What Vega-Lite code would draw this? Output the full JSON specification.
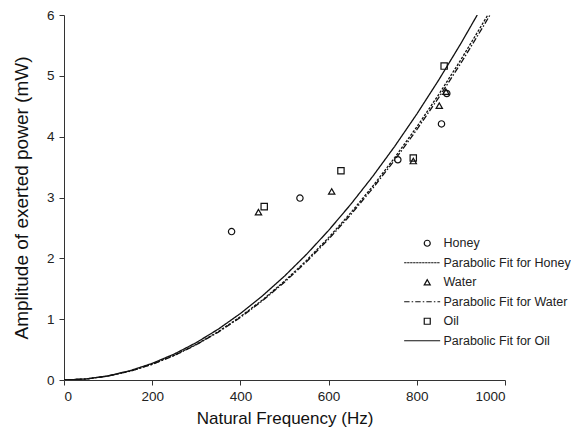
{
  "$schema": "https://vega.github.io/schema/vega-lite/v6.json",
  "width": 441,
  "height": 365,
  "autosize": {"type": "none"},
  "padding": {"left": 64, "top": 15, "right": 66, "bottom": 58},
  "background": "white",
  "config": {
    "view": {"stroke": null},
    "font": "Liberation Sans",
    "axis": {
      "grid": false,
      "domainColor": "#333",
      "tickColor": "#333",
      "tickSize": 5,
      "labelFont": "Liberation Sans",
      "labelFontSize": 13.5,
      "labelColor": "#222",
      "titleFont": "Liberation Sans",
      "titleFontSize": 17,
      "titleFontWeight": "normal",
      "titleColor": "#111"
    }
  },
  "datasets": {
    "points": [
      {"series": "Honey", "freq": 380, "power": 2.44},
      {"series": "Honey", "freq": 535, "power": 2.99},
      {"series": "Honey", "freq": 757, "power": 3.62},
      {"series": "Honey", "freq": 856, "power": 4.21},
      {"series": "Honey", "freq": 868, "power": 4.71},
      {"series": "Water", "freq": 441, "power": 2.76},
      {"series": "Water", "freq": 607, "power": 3.10},
      {"series": "Water", "freq": 792, "power": 3.60},
      {"series": "Water", "freq": 851, "power": 4.51},
      {"series": "Water", "freq": 866, "power": 4.74},
      {"series": "Oil", "freq": 454, "power": 2.85},
      {"series": "Oil", "freq": 628, "power": 3.44},
      {"series": "Oil", "freq": 792, "power": 3.65},
      {"series": "Oil", "freq": 862, "power": 5.16}
    ],
    "fits": [
      {"fluid": "Honey", "freq": 0, "power": 0},
      {"fluid": "Honey", "freq": 50, "power": 0.0163},
      {"fluid": "Honey", "freq": 100, "power": 0.065},
      {"fluid": "Honey", "freq": 150, "power": 0.1463},
      {"fluid": "Honey", "freq": 200, "power": 0.26},
      {"fluid": "Honey", "freq": 250, "power": 0.4063},
      {"fluid": "Honey", "freq": 300, "power": 0.585},
      {"fluid": "Honey", "freq": 350, "power": 0.7963},
      {"fluid": "Honey", "freq": 400, "power": 1.04},
      {"fluid": "Honey", "freq": 450, "power": 1.3163},
      {"fluid": "Honey", "freq": 500, "power": 1.625},
      {"fluid": "Honey", "freq": 550, "power": 1.9663},
      {"fluid": "Honey", "freq": 600, "power": 2.34},
      {"fluid": "Honey", "freq": 650, "power": 2.7463},
      {"fluid": "Honey", "freq": 700, "power": 3.185},
      {"fluid": "Honey", "freq": 750, "power": 3.6563},
      {"fluid": "Honey", "freq": 800, "power": 4.16},
      {"fluid": "Honey", "freq": 850, "power": 4.6963},
      {"fluid": "Honey", "freq": 900, "power": 5.265},
      {"fluid": "Honey", "freq": 950, "power": 5.8663},
      {"fluid": "Honey", "freq": 961, "power": 6.0},
      {"fluid": "Water", "freq": 0, "power": 0},
      {"fluid": "Water", "freq": 50, "power": 0.0161},
      {"fluid": "Water", "freq": 100, "power": 0.0643},
      {"fluid": "Water", "freq": 150, "power": 0.1447},
      {"fluid": "Water", "freq": 200, "power": 0.2572},
      {"fluid": "Water", "freq": 250, "power": 0.4019},
      {"fluid": "Water", "freq": 300, "power": 0.5787},
      {"fluid": "Water", "freq": 350, "power": 0.7877},
      {"fluid": "Water", "freq": 400, "power": 1.0288},
      {"fluid": "Water", "freq": 450, "power": 1.3021},
      {"fluid": "Water", "freq": 500, "power": 1.6075},
      {"fluid": "Water", "freq": 550, "power": 1.9451},
      {"fluid": "Water", "freq": 600, "power": 2.3148},
      {"fluid": "Water", "freq": 650, "power": 2.7167},
      {"fluid": "Water", "freq": 700, "power": 3.1507},
      {"fluid": "Water", "freq": 750, "power": 3.6169},
      {"fluid": "Water", "freq": 800, "power": 4.1152},
      {"fluid": "Water", "freq": 850, "power": 4.6457},
      {"fluid": "Water", "freq": 900, "power": 5.2083},
      {"fluid": "Water", "freq": 950, "power": 5.8031},
      {"fluid": "Water", "freq": 966, "power": 6.0},
      {"fluid": "Oil", "freq": 0, "power": 0},
      {"fluid": "Oil", "freq": 50, "power": 0.0171},
      {"fluid": "Oil", "freq": 100, "power": 0.0683},
      {"fluid": "Oil", "freq": 150, "power": 0.1537},
      {"fluid": "Oil", "freq": 200, "power": 0.2732},
      {"fluid": "Oil", "freq": 250, "power": 0.4269},
      {"fluid": "Oil", "freq": 300, "power": 0.6147},
      {"fluid": "Oil", "freq": 350, "power": 0.8367},
      {"fluid": "Oil", "freq": 400, "power": 1.0928},
      {"fluid": "Oil", "freq": 450, "power": 1.3831},
      {"fluid": "Oil", "freq": 500, "power": 1.7075},
      {"fluid": "Oil", "freq": 550, "power": 2.0661},
      {"fluid": "Oil", "freq": 600, "power": 2.4588},
      {"fluid": "Oil", "freq": 650, "power": 2.8857},
      {"fluid": "Oil", "freq": 700, "power": 3.3467},
      {"fluid": "Oil", "freq": 750, "power": 3.8419},
      {"fluid": "Oil", "freq": 800, "power": 4.3712},
      {"fluid": "Oil", "freq": 850, "power": 4.9347},
      {"fluid": "Oil", "freq": 900, "power": 5.5323},
      {"fluid": "Oil", "freq": 937, "power": 6.0}
    ]
  },
  "layer": [
    {
      "data": {"name": "fits"},
      "mark": {"type": "line", "color": "#111", "strokeWidth": 1.3, "clip": true},
      "encoding": {
        "x": {"field": "freq", "type": "quantitative", "scale": {"domain": [0, 1000]}, "axis": {"title": "Natural Frequency (Hz)", "values": [0, 200, 400, 600, 800, 1000], "format": "d", "labelPadding": 4, "titlePadding": 8}},
        "y": {"field": "power", "type": "quantitative", "scale": {"domain": [0, 6]}, "axis": {"title": "Amplitude of exerted power (mW)", "titleFontSize": 19, "values": [0, 1, 2, 3, 4, 5, 6], "format": "d", "labelPadding": 5, "titlePadding": 15}},
        "detail": {"field": "fluid"},
        "strokeDash": {"field": "fluid", "type": "nominal", "scale": {"domain": ["Honey", "Water", "Oil"], "range": [[2.5, 1.5], [6, 2, 1.5, 2], [1, 0]]}, "legend": null}
      }
    },
    {
      "data": {"name": "points"},
      "mark": {"type": "point", "filled": false, "color": "#111", "strokeWidth": 1.2, "size": 40, "opacity": 1},
      "encoding": {
        "x": {"field": "freq", "type": "quantitative"},
        "y": {"field": "power", "type": "quantitative"},
        "shape": {
          "field": "series",
          "type": "nominal",
          "scale": {
            "domain": ["Honey", "Parabolic Fit for Honey", "Water", "Parabolic Fit for Water", "Oil", "Parabolic Fit for Oil"],
            "range": [
              "circle",
              "M-7.7,0H-6.9M-6.7,0H-5.9M-5.7,0H-4.9M-4.7,0H-3.9M-3.7,0H-2.9M-2.7,0H-1.9M-1.7,0H-0.9M-0.7,0H0.1M0.3,0H1.1M1.3,0H2.1M2.3,0H3.1M3.3,0H4.1",
              "triangle-up",
              "M-7.7,0H-5.9M-5.2,0H-4.7M-4.0,0H-2.2M-1.5,0H-1.0M-0.3,0H1.5M2.2,0H2.7M3.4,0H4.3",
              "square",
              "M-7.7,0H4.3"
            ]
          },
          "legend": {
            "title": null,
            "orient": "none",
            "legendX": 357,
            "legendY": 222,
            "symbolSize": 36,
            "symbolStrokeWidth": 1.2,
            "symbolStrokeColor": "#111",
            "symbolFillColor": "transparent",
            "labelFont": "Liberation Sans",
            "labelFontSize": 12.5,
            "labelColor": "#222",
            "labelOffset": 10,
            "labelLimit": 200,
            "rowPadding": 6.5,
            "padding": 0
          }
        }
      }
    }
  ]
}
